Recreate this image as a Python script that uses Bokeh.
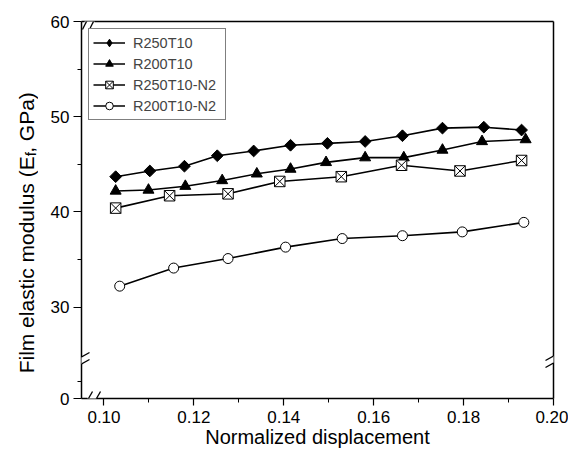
from math import pi
from bokeh.plotting import figure
from bokeh.layouts import row
from bokeh.models import Range1d, FixedTicker, LinearAxis, Legend, LegendItem, Arrow
from bokeh.core.properties import value
from bokeh.embed import file_html
from bokeh.resources import INLINE

# ---------------- data ----------------
series_names = ["R250T10", "R200T10", "R250T10-N2", "R200T10-N2"]

x_r250t10 = [0.1026, 0.1102, 0.1179, 0.1252, 0.1333, 0.1415, 0.1497, 0.1581, 0.1664, 0.1753, 0.1845, 0.1929]
y_r250t10 = [43.7, 44.3, 44.8, 45.9, 46.4, 47.0, 47.2, 47.4, 48.0, 48.8, 48.9, 48.6]

x_r200t10 = [0.1026, 0.1099, 0.1181, 0.1263, 0.1340, 0.1415, 0.1494, 0.1581, 0.1667, 0.1753, 0.1841, 0.1938]
y_r200t10 = [42.2, 42.3, 42.7, 43.3, 44.0, 44.5, 45.2, 45.7, 45.7, 46.5, 47.4, 47.6]

x_r250t10n2 = [0.1026, 0.1146, 0.1276, 0.1391, 0.1528, 0.1662, 0.1792, 0.1929]
y_r250t10n2 = [40.4, 41.7, 41.9, 43.2, 43.7, 44.9, 44.3, 45.4]

x_r200t10n2 = [0.1035, 0.1155, 0.1276, 0.1404, 0.1530, 0.1664, 0.1797, 0.1934]
y_r200t10n2 = [32.2, 34.1, 35.1, 36.3, 37.2, 37.5, 37.9, 38.9]

x_ticks = [0.10, 0.12, 0.14, 0.16, 0.18, 0.20]
x_tick_labels = ["0.10", "0.12", "0.14", "0.16", "0.18", "0.20"]
x_minor = [0.11, 0.13, 0.15, 0.17, 0.19]

y_break_bottom = 20.4          # axis position where the broken axis shows "0"
y_ticks = [y_break_bottom, 30, 40, 50, 60]
y_tick_labels = ["0", "30", "40", "50", "60"]
y_minor = [22.2, 35, 45, 55]

x_title = "Normalized displacement"
y_title_main = "Film elastic modulus (E"
y_title_sub = "f"
y_title_end = ", GPa)"

# ---------------- layout ----------------
X0, X1 = 0.095, 0.200
Y0, Y1 = y_break_bottom, 60.0
FW, FH = 472, 377
FONT = "Liberation Sans"
H = 450
LAB_W = 38


def dx(px):
    return px * (X1 - X0) / FW


def dy(px):
    return px * (Y1 - Y0) / FH


p = figure(width=530, height=H, x_range=Range1d(X0, X1), y_range=Range1d(Y0, Y1),
           output_backend="svg", toolbar_location=None,
           min_border_left=43, min_border_right=15, min_border_top=21, min_border_bottom=5)
p.outline_line_color = None
p.grid.visible = False
p.background_fill_color = "white"
p.border_fill_color = "white"

for ax in (p.xaxis[0], p.yaxis[0]):
    ax.axis_line_color = "black"
    ax.axis_line_width = 1.5
    ax.major_tick_line_color = "black"
    ax.minor_tick_line_color = "black"
    ax.major_tick_line_width = 1.2
    ax.major_tick_in = 0
    ax.minor_tick_in = 0
    ax.minor_tick_out = 4
    ax.major_label_text_font = FONT
    ax.major_label_text_font_size = "17px"
    ax.major_label_text_color = "black"

p.xaxis.ticker = FixedTicker(ticks=x_ticks, minor_ticks=x_minor)
p.xaxis.major_label_overrides = {t: l for t, l in zip(x_ticks, x_tick_labels)}
p.xaxis.major_tick_out = 7
p.xaxis.major_label_standoff = 5
p.xaxis.axis_label = x_title
p.xaxis.axis_label_text_font = FONT
p.xaxis.axis_label_text_font_size = "20px"
p.xaxis.axis_label_text_font_style = "normal"
p.xaxis.axis_label_text_color = "black"
p.xaxis.axis_label_standoff = 0

p.yaxis.ticker = FixedTicker(ticks=y_ticks, minor_ticks=y_minor)
p.yaxis.major_label_overrides = {t: l for t, l in zip(y_ticks, y_tick_labels)}
p.yaxis.major_tick_out = 8
p.yaxis.major_label_standoff = 4

for place in ("above", "right"):
    ax = LinearAxis(ticker=FixedTicker(ticks=[]), major_label_text_font_size="0px",
                    major_tick_line_color=None, minor_tick_line_color=None,
                    axis_line_color="black", axis_line_width=1.5)
    p.add_layout(ax, place)

# ---------------- series ----------------
l1 = p.line(x_r250t10, y_r250t10, line_color="black", line_width=1.6)
# small diamond hidden under the first rotated square: gives the legend a diamond glyph
k1 = p.scatter(x_r250t10[:1], y_r250t10[:1], marker="diamond", size=6,
               fill_color="black", line_color="black")
m1 = p.scatter(x_r250t10, y_r250t10, marker="square", angle=pi / 4, size=8.3,
               fill_color="black", line_color="black")
l2 = p.line(x_r200t10, y_r200t10, line_color="black", line_width=1.6)
m2 = p.scatter(x_r200t10, y_r200t10, marker="triangle", size=11,
               fill_color="black", line_color="black")
l3 = p.line(x_r250t10n2, y_r250t10n2, line_color="black", line_width=1.6)
m3 = p.scatter(x_r250t10n2, y_r250t10n2, marker="square_x", size=10.5,
               fill_color="white", line_color="black", line_width=1)
l4 = p.line(x_r200t10n2, y_r200t10n2, line_color="black", line_width=1.6)
m4 = p.scatter(x_r200t10n2, y_r200t10n2, marker="circle", size=10,
               fill_color="white", line_color="black", line_width=1)

legend = Legend(items=[LegendItem(label=series_names[0], renderers=[l1, k1]),
                       LegendItem(label=series_names[1], renderers=[l2, m2]),
                       LegendItem(label=series_names[2], renderers=[l3, m3]),
                       LegendItem(label=series_names[3], renderers=[l4, m4])],
                location="top_left", margin=7, padding=4, spacing=2,
                glyph_width=32, glyph_height=19, label_height=19, label_width=88,
                label_standoff=8, label_text_font=FONT, label_text_font_size="14.5px",
                border_line_color="black", border_line_width=1,
                background_fill_color="white", background_fill_alpha=1)
p.add_layout(legend)

# ---------------- axis break marks ----------------
def seg(x0, y0, x1, y1, color="black", width=1.3):
    p.add_layout(Arrow(x_start=x0, y_start=y0, x_end=x1, y_end=y1, start=None, end=None,
                       line_color=color, line_width=width))


seg(X0 + dx(3), Y1, X0 + dx(13), Y1, "white", 5)
for c in (5, 12):
    seg(X0 + dx(c - 4), Y1 - dy(8), X0 + dx(c + 4), Y1 + dy(8))
seg(X0 + dx(6), Y0, X0 + dx(15), Y0, "white", 5)
for c in (7, 15):
    seg(X0 + dx(c - 4), Y0 - dy(7), X0 + dx(c + 4), Y0 + dy(7))
for xa, ycp in ((X0, 38), (X1, 39)):
    yc = Y0 + dy(ycp)
    seg(xa, yc - dy(3.5), xa, yc + dy(3.5), "white", 5)
    for off in (-3.5, 3.5):
        seg(xa - dx(8), yc + dy(off) - dy(4.5), xa + dx(8), yc + dy(off) + dy(4.5))

# ---------------- y axis title (own narrow panel, with subscript) ----------------
ylab = figure(width=LAB_W, height=H, x_range=Range1d(0, LAB_W), y_range=Range1d(0, H),
              output_backend="svg", toolbar_location=None, min_border=0,
              x_axis_location=None, y_axis_location=None)
ylab.outline_line_color = None
ylab.grid.visible = False
ylab.xgrid.grid_line_color = None
ylab.ygrid.grid_line_color = None
ylab.background_fill_color = "white"
ylab.border_fill_color = "white"

fs_main, fs_sub = 21, 15
w_main = 10.335 * fs_main
w_sub = 0.278 * fs_sub
w_end = 2.89 * fs_main
center_from_top = 237
bottom_from_top = center_from_top + (w_main + w_sub + w_end) / 2
split_from_top = bottom_from_top - w_main
base_x = 26
ylab.text(x=[base_x], y=[H - split_from_top], text=[y_title_main], angle=pi / 2,
          text_align=value("right"), text_baseline=value("alphabetic"),
          text_font=value(FONT), text_font_size=value(f"{fs_main}px"), text_color="black")
ylab.text(x=[base_x + 4], y=[H - split_from_top], text=[y_title_sub], angle=pi / 2,
          text_align=value("left"), text_baseline=value("alphabetic"),
          text_font=value(FONT), text_font_size=value(f"{fs_sub}px"), text_color="black")
ylab.text(x=[base_x], y=[H - split_from_top + w_sub], text=[y_title_end], angle=pi / 2,
          text_align=value("left"), text_baseline=value("alphabetic"),
          text_font=value(FONT), text_font_size=value(f"{fs_main}px"), text_color="black")

layout = row(ylab, p)
open("out.html", "w").write(file_html(layout, INLINE))
